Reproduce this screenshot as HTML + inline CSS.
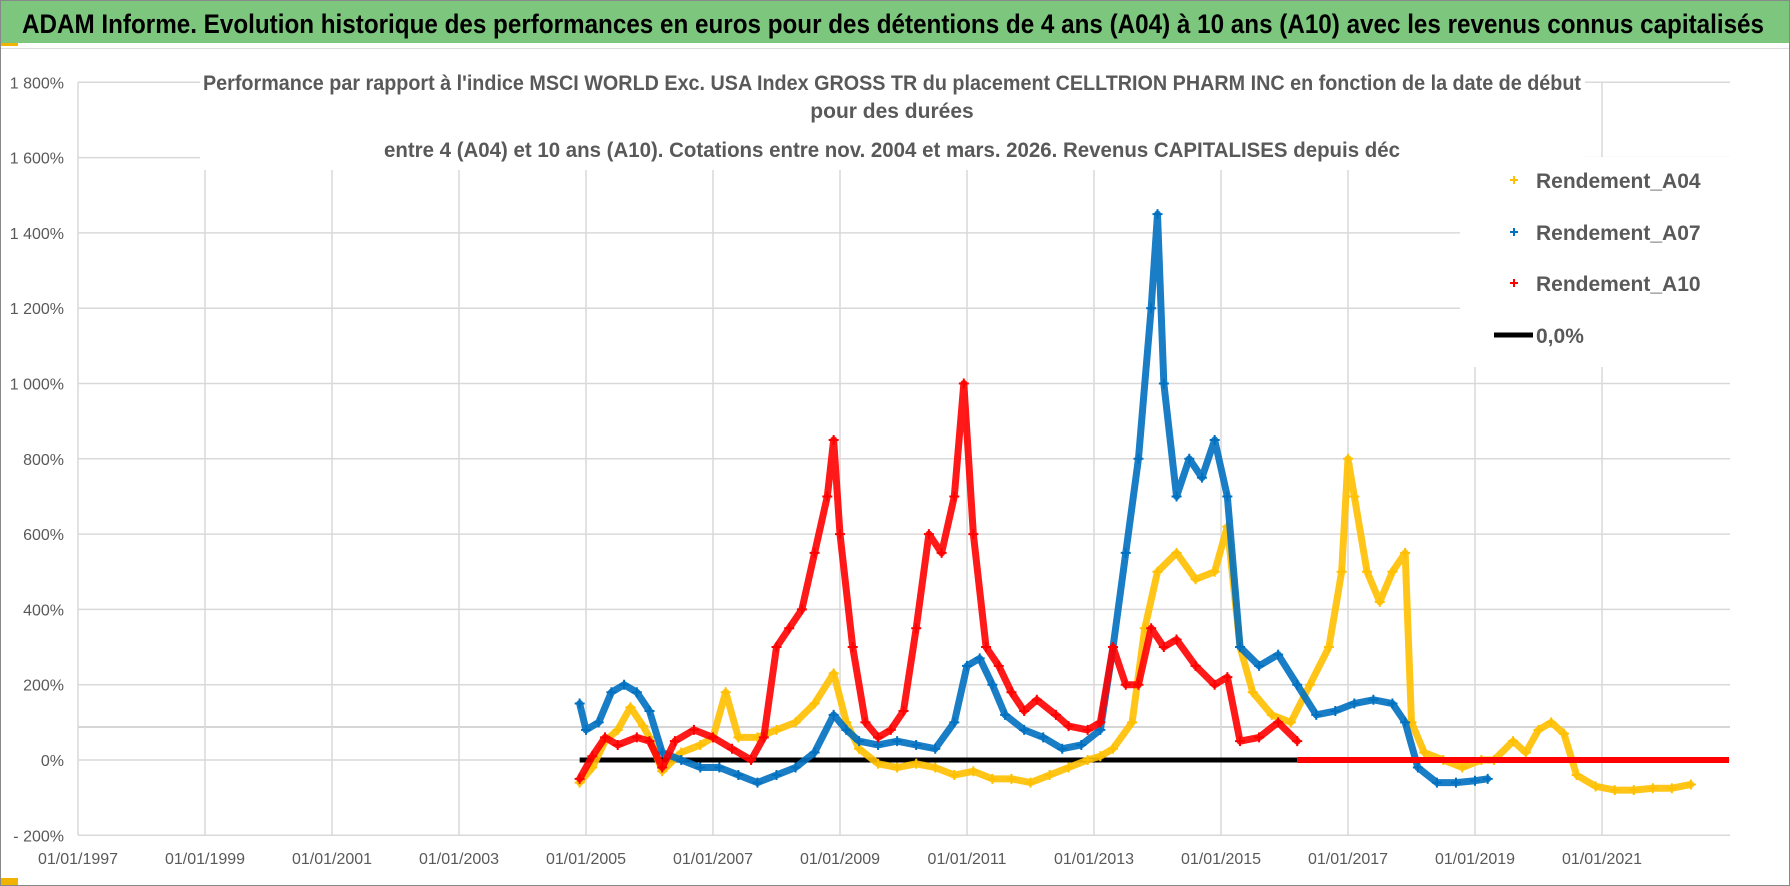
<!DOCTYPE html>
<html><head><meta charset="utf-8"><style>
html,body{margin:0;padding:0;background:#fff;}
svg{display:block;font-family:"Liberation Sans Narrow","Liberation Sans",sans-serif;}
</style></head><body>
<svg id="chart" width="1790" height="886" viewBox="0 0 1790 886" xmlns="http://www.w3.org/2000/svg">
<rect x="0.5" y="0.5" width="1789" height="885" fill="#fff" stroke="#888"/>
<rect x="1" y="1" width="1788" height="42" fill="#7dc67d"/>
<rect x="1" y="43" width="17" height="3" fill="#f0b400"/>
<text x="22" y="33" font-size="27" font-weight="bold" fill="#000" textLength="1742" lengthAdjust="spacingAndGlyphs">ADAM Informe. Evolution historique des performances en euros pour des détentions de 4 ans (A04) à 10 ans (A10) avec les revenus connus capitalisés</text>
<g id="grid"></g>
<rect x="1" y="48" width="1788" height="1" fill="#ddd"/>
<g id="series"></g>
<rect x="200" y="64" width="1385" height="106" fill="#fff"/>
<g fill="#595959" font-weight="bold" font-size="21" text-anchor="middle">
<text x="892" y="90" textLength="1378" lengthAdjust="spacingAndGlyphs">Performance par rapport à l'indice MSCI WORLD Exc. USA Index GROSS TR  du placement CELLTRION PHARM INC en fonction de la date de début</text>
<text x="892" y="118">pour des durées</text>
<text x="892" y="157" textLength="1016" lengthAdjust="spacingAndGlyphs">entre 4 (A04) et 10 ans (A10). Cotations entre nov. 2004 et mars. 2026. Revenus CAPITALISES depuis déc</text>
</g>
<rect x="1460" y="157" width="270" height="210" fill="#fff"/>
<g font-size="21" font-weight="bold" fill="#595959">
<g><path d="M1510 180h8M1514 176v8" stroke="#ffc000" stroke-width="2"/><text x="1536" y="188">Rendement_A04</text></g>
<g><path d="M1510 232h8M1514 228v8" stroke="#0070c0" stroke-width="2"/><text x="1536" y="240">Rendement_A07</text></g>
<g><path d="M1510 283h8M1514 279v8" stroke="#ff0000" stroke-width="2"/><text x="1536" y="291">Rendement_A10</text></g>
<g><path d="M1494 335h39" stroke="#000" stroke-width="5"/><text x="1536" y="343">0,0%</text></g>
</g>
<rect x="1" y="878" width="17" height="7" fill="#f0b400"/>
</svg>
<script>
const yTicks=[-200,0,200,400,600,800,1000,1200,1400,1600,1800];
const yTickLabels=["- 200%","0%","200%","400%","600%","800%","1 000%","1 200%","1 400%","1 600%","1 800%"];
const xTicks=[1997,1999,2001,2003,2005,2007,2009,2011,2013,2015,2017,2019,2021];
const xTickLabels=["01/01/1997","01/01/1999","01/01/2001","01/01/2003","01/01/2005","01/01/2007","01/01/2009","01/01/2011","01/01/2013","01/01/2015","01/01/2017","01/01/2019","01/01/2021"];
const a04Dates=[2004.9,2005.1,2005.3,2005.5,2005.7,2005.9,2006.0,2006.2,2006.5,2006.8,2007.0,2007.2,2007.4,2007.7,2008.0,2008.3,2008.6,2008.9,2009.1,2009.3,2009.6,2009.9,2010.2,2010.5,2010.8,2011.1,2011.4,2011.7,2012.0,2012.3,2012.6,2012.9,2013.1,2013.3,2013.6,2013.8,2014.0,2014.3,2014.6,2014.9,2015.1,2015.3,2015.5,2015.8,2016.1,2016.4,2016.7,2016.9,2017.0,2017.1,2017.3,2017.5,2017.7,2017.9,2018.0,2018.2,2018.5,2018.8,2019.1,2019.3,2019.6,2019.8,2020.0,2020.2,2020.4,2020.6,2020.9,2021.2,2021.5,2021.8,2022.1,2022.4];
const a04Values=[-60,-20,50,80,140,90,60,-30,20,40,60,180,60,60,80,100,150,230,100,30,-10,-20,-10,-20,-40,-30,-50,-50,-60,-40,-20,0,10,30,100,350,500,550,480,500,620,300,180,120,100,200,300,500,800,700,500,420,500,550,100,20,0,-20,0,0,50,20,80,100,70,-40,-70,-80,-80,-75,-75,-65];
const a07Dates=[2004.9,2005.0,2005.2,2005.4,2005.6,2005.8,2006.0,2006.2,2006.5,2006.8,2007.1,2007.4,2007.7,2008.0,2008.3,2008.6,2008.9,2009.1,2009.3,2009.6,2009.9,2010.2,2010.5,2010.8,2011.0,2011.2,2011.4,2011.6,2011.9,2012.2,2012.5,2012.8,2013.1,2013.3,2013.5,2013.7,2013.9,2014.0,2014.1,2014.3,2014.5,2014.7,2014.9,2015.1,2015.3,2015.6,2015.9,2016.2,2016.5,2016.8,2017.1,2017.4,2017.7,2017.9,2018.1,2018.4,2018.7,2019.0,2019.2];
const a07Values=[150,80,100,180,200,180,130,20,0,-20,-20,-40,-60,-40,-20,20,120,80,50,40,50,40,30,100,250,270,200,120,80,60,30,40,80,300,550,800,1200,1450,1000,700,800,750,850,700,300,250,280,200,120,130,150,160,150,100,-20,-60,-60,-55,-50];
const a10Dates=[2004.9,2005.1,2005.3,2005.5,2005.8,2006.0,2006.2,2006.4,2006.7,2007.0,2007.3,2007.6,2007.8,2008.0,2008.2,2008.4,2008.6,2008.8,2008.9,2009.0,2009.2,2009.4,2009.6,2009.8,2010.0,2010.2,2010.4,2010.6,2010.8,2010.95,2011.1,2011.3,2011.5,2011.7,2011.9,2012.1,2012.4,2012.6,2012.9,2013.1,2013.3,2013.5,2013.7,2013.9,2014.1,2014.3,2014.6,2014.9,2015.1,2015.3,2015.6,2015.9,2016.2];
const a10Values=[-50,10,60,40,60,50,-20,50,80,60,30,0,60,300,350,400,550,700,850,600,300,100,60,80,130,350,600,550,700,1000,600,300,250,180,130,160,120,90,80,100,300,200,200,350,300,320,250,200,220,50,60,100,50];
const a10ZeroRange=[2016.2,2023.0];
const zeroLineRange=[2004.9,2016.2];

const X0=78,XPY=63.5,Y0=760,YPP=75.3/200;
const xs=d=>X0+(d-1997)*XPY;
const ys=v=>Y0-v*YPP;
const NS="http://www.w3.org/2000/svg";
const grid=document.getElementById('grid'),ser=document.getElementById('series');
function mk(tag,attrs,parent){const e=document.createElementNS(NS,tag);for(const k in attrs)e.setAttribute(k,attrs[k]);parent.appendChild(e);return e;}
yTicks.forEach((t,i)=>{
  const l=mk('line',{x1:X0,x2:1730,y1:ys(t),y2:ys(t),stroke:'#d9d9d9','stroke-width':1.5},grid);
  
  
  const tx=mk('text',{x:64,y:ys(t)+6,'text-anchor':'end','font-size':16,fill:'#595959'},grid);
  tx.textContent=yTickLabels[i];
  
  
});
const extra=mk('line',{x1:X0,x2:1730,y1:727,y2:727,stroke:'#c8c8c8','stroke-width':1.5},grid);


xTicks.forEach((t,i)=>{
  const l=mk('line',{x1:xs(t),x2:xs(t),y1:ys(1800),y2:ys(-200),stroke:'#d9d9d9','stroke-width':1.5},grid);
  
  
  const tx=mk('text',{x:xs(t),y:864,'text-anchor':'middle','font-size':16,fill:'#595959'},grid);
  tx.textContent=xTickLabels[i];
  
  
});
const zl=mk('line',{x1:xs(zeroLineRange[0]),x2:xs(zeroLineRange[1]),y1:ys(0),y2:ys(0),stroke:'#000','stroke-width':5},ser);


function series(dates,vals,color,name){
  const g=mk('g',{},ser);
  
  
  const pts=dates.map((d,i)=>xs(d)+','+ys(vals[i])).join(' ');
  const pl=mk('polyline',{points:pts,fill:'none',stroke:color,'stroke-width':7,'stroke-linejoin':'round','stroke-linecap':'round',opacity:0.9},g);
  
  
  dates.forEach((d,i)=>{
    const x=xs(d),y=ys(vals[i]);
    const p=mk('path',{d:`M${x-5} ${y}h10M${x} ${y-5}v10`,stroke:color,'stroke-width':2},g);
    
    
  });
}
series(a04Dates,a04Values,'#ffc000','series-a04');
series(a07Dates,a07Values,'#0070c0','series-a07');
series(a10Dates,a10Values,'#ff0000','series-a10');
const rz=mk('line',{x1:xs(a10ZeroRange[0]),x2:xs(a10ZeroRange[1]),y1:ys(0),y2:ys(0),stroke:'#ff0000','stroke-width':6},ser);


</script>
</body></html>
